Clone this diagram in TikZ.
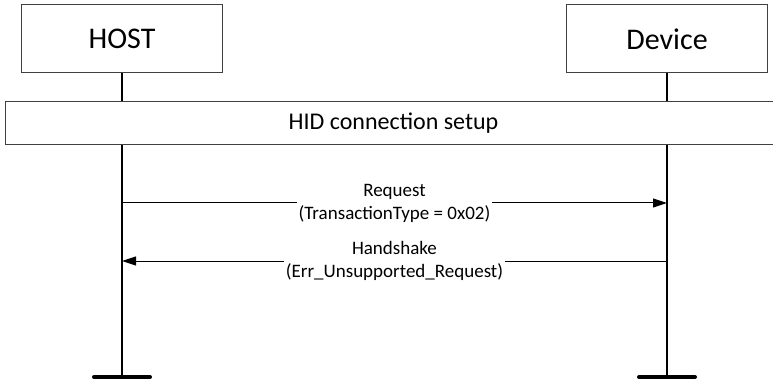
\documentclass[tikz,border=0pt]{standalone}
\usepackage{fontspec}
\setmainfont{Carlito}
\usetikzlibrary{arrows.meta,positioning}

\begin{document}
\begin{tikzpicture}[x=1pt,y=-1pt,
  entity/.style={draw=black!75,line width=1pt,minimum width=201pt,minimum height=68pt,font=\fontsize{30}{36}\selectfont},
  phase/.style={draw=black!75,line width=1pt,fill=white,minimum width=777pt,minimum height=43pt,font=\fontsize{24}{29}\selectfont},
  lifeline/.style={line width=1.5pt},
  msg/.style={line width=1pt,-{Triangle[length=14pt,width=9pt]}},
  msglabel/.style={fill=white,align=center,inner sep=2pt,font=\fontsize{19}{23}\selectfont},
  stopbar/.style={line width=4pt,line cap=round}]
\useasboundingbox (0,0) rectangle (773,379);

% Entities
\node[entity] (host) at (122,39) {HOST};
\node[entity] (device) at (667,39) {Device};

% Lifelines
\coordinate (hostend) at (122,377);
\coordinate (deviceend) at (667,377);
\draw[lifeline] (host.south) -- (hostend);
\draw[lifeline] (device.south) -- (deviceend);

% Setup phase
\node[phase] (setup) at (393.5,123.5) {HID connection setup};

% Messages
\coordinate (hostreq) at (122,203);
\coordinate (devreq) at (667,203);
\coordinate (hosths) at (122,261);
\coordinate (devhs) at (667,261);
\draw[msg] (hostreq) -- (devreq) node[midway,msglabel] (req) {Request\\(TransactionType = 0x02)};
\draw[msg] (devhs) -- (hosths) node[midway,msglabel] (hs) {Handshake\\(Err\_Unsupported\_Request)};

% Stop bars
\draw[stopbar] ([xshift=-28pt]hostend) -- ([xshift=28pt]hostend);
\draw[stopbar] ([xshift=-28pt]deviceend) -- ([xshift=28pt]deviceend);
\end{tikzpicture}
\end{document}
